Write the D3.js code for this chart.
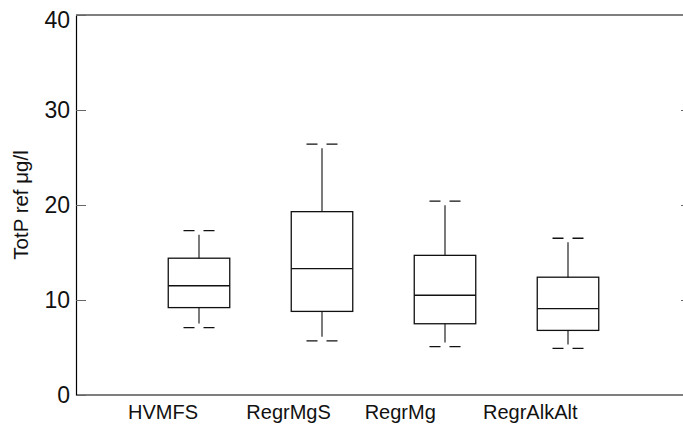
<!DOCTYPE html>
<html>
<head>
<meta charset="utf-8">
<script src="https://cdn.jsdelivr.net/npm/d3@7"></script>
<style>
  body { margin: 0; background: #fff; }
  svg { display: block; font-family: "Liberation Sans", Arial, sans-serif; }
</style>
</head>
<body>
<svg id="graf" width="683" height="426"></svg>
<script>
const categorias = ["HVMFS", "RegrMgS", "RegrMg", "RegrAlkAlt"];
const bigoteBajo = [7.1, 5.7, 5.1, 4.9];
const q1 = [9.2, 8.8, 7.5, 6.8];
const mediana = [11.5, 13.3, 10.5, 9.1];
const q3 = [14.4, 19.3, 14.7, 12.4];
const bigoteAlto = [17.3, 26.4, 20.4, 16.5];
const ticksY = [0, 10, 20, 30, 40];
const tituloY = "TotP ref μg/l";

const datos = categorias.map((c, i) => ({
  cat: c, lo: bigoteBajo[i], q1: q1[i], med: mediana[i], q3: q3[i], hi: bigoteAlto[i]
}));

const svg = d3.select("#graf");
const izq = 76, der = 691, arriba = 15, abajo = 395;

const x = d3.scalePoint().domain(categorias).range([izq, der]).padding(1);
const xEtiqueta = d3.scalePoint().domain(categorias).range([128, 483]);
const y = d3.scaleLinear().domain([0, 40]).range([abajo, arriba]);

// marco
svg.append("line").attr("x1", izq).attr("x2", der).attr("y1", arriba).attr("y2", arriba)
  .attr("stroke", "#000").attr("stroke-width", 1.2);
svg.append("line").attr("x1", izq).attr("x2", der).attr("y1", abajo).attr("y2", abajo)
  .attr("stroke", "#000").attr("stroke-width", 1.2);

// eje izquierdo
const ejeY = svg.append("g").attr("transform", `translate(${izq},0)`)
  .call(d3.axisLeft(y).tickValues(ticksY).tickSizeInner(-10).tickSizeOuter(0).tickPadding(6));
ejeY.select(".domain").attr("stroke", "#000").attr("stroke-width", 1.2);
ejeY.selectAll(".tick line").attr("stroke", "#666");
ejeY.selectAll(".tick text").attr("font-size", 23).attr("fill", "#111")
  .attr("font-family", "Liberation Sans, Arial, sans-serif");
ejeY.selectAll(".tick").filter(d => d === 40).select("text").attr("dy", "0.56em");

// eje derecho (solo marcas)
const ejeDer = svg.append("g").attr("transform", `translate(${der},0)`)
  .call(d3.axisRight(y).tickValues([10, 20, 30]).tickSizeInner(-10).tickSizeOuter(0).tickFormat(""));
ejeDer.select(".domain").remove();
ejeDer.selectAll(".tick line").attr("stroke", "#666");

// etiquetas x
svg.selectAll(".etq").data(categorias).enter().append("text")
  .attr("class", "etq")
  .attr("x", d => xEtiqueta(d))
  .attr("y", 419)
  .attr("font-size", 20)
  .attr("fill", "#111")
  .attr("text-anchor", "start")
  .text(d => d);

// titulo y
svg.append("text")
  .attr("transform", `translate(28,${(arriba + abajo) / 2}) rotate(-90)`)
  .attr("text-anchor", "middle")
  .attr("font-size", 20.5)
  .attr("fill", "#111")
  .text(tituloY);

// cajas
const ancho = x.step() * 0.5;
const g = svg.selectAll(".caja").data(datos).enter().append("g").attr("class", "caja");

g.append("line")
  .attr("x1", d => x(d.cat)).attr("x2", d => x(d.cat))
  .attr("y1", d => y(d.q3)).attr("y2", d => y(d.hi) + 4)
  .attr("stroke", "#333").attr("stroke-width", 1.3);
g.append("line")
  .attr("x1", d => x(d.cat)).attr("x2", d => x(d.cat))
  .attr("y1", d => y(d.q1)).attr("y2", d => y(d.lo) - 4)
  .attr("stroke", "#333").attr("stroke-width", 1.3);

["hi", "lo"].forEach(k => {
  g.append("line")
    .attr("x1", d => x(d.cat) - 15.5).attr("x2", d => x(d.cat) + 15.5)
    .attr("y1", d => y(d[k])).attr("y2", d => y(d[k]))
    .attr("stroke", "#111").attr("stroke-width", 1.3)
    .attr("stroke-dasharray", "11,9");
});

g.append("rect")
  .attr("x", d => x(d.cat) - ancho / 2)
  .attr("y", d => y(d.q3))
  .attr("width", ancho)
  .attr("height", d => y(d.q1) - y(d.q3))
  .attr("fill", "none").attr("stroke", "#111").attr("stroke-width", 1.3);

g.append("line")
  .attr("x1", d => x(d.cat) - ancho / 2).attr("x2", d => x(d.cat) + ancho / 2)
  .attr("y1", d => y(d.med)).attr("y2", d => y(d.med))
  .attr("stroke", "#111").attr("stroke-width", 1.3);
</script>
</body>
</html>
